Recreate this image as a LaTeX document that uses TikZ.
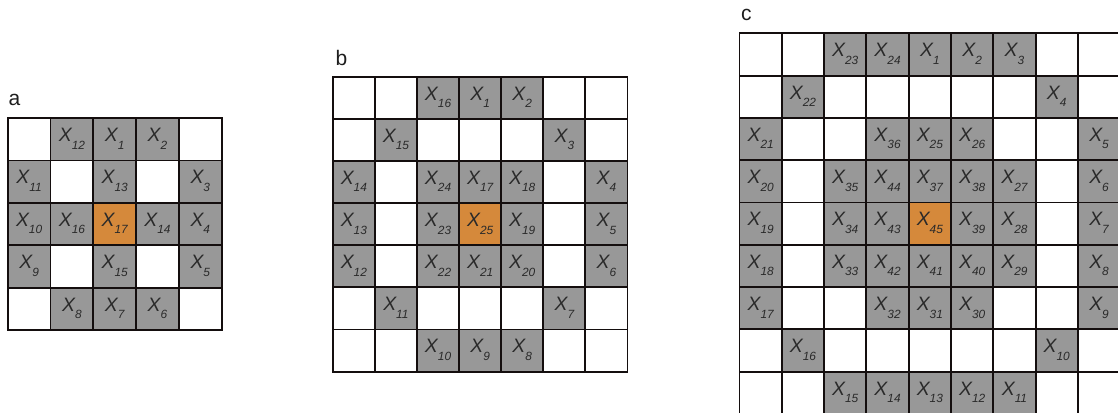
\documentclass[tikz,border=0pt]{standalone}
\usepackage{fontspec}
\setmainfont{Liberation Sans}
\definecolor{cellgray}{HTML}{989898}
\definecolor{cellorange}{HTML}{D5893B}
\definecolor{gridline}{HTML}{140E0E}
\definecolor{txt}{HTML}{2A2A2A}
\definecolor{paneltxt}{HTML}{1E1E1E}
\tikzset{
  cellbox/.style={draw=gridline, line width=1.9pt, fill=white, inner sep=0pt, outer sep=0pt},
  xtxt/.style={anchor=base, inner sep=0pt, text=txt, font=\itshape},
  panel/.style={anchor=base west, inner sep=0pt, text=paneltxt, font=\fontsize{21}{24}\selectfont}
}
\newcommand\xsub[1]{{\fontsize{19.4}{21}\selectfont X}\raisebox{-7.5pt}{\fontsize{11.9}{13}\selectfont #1}}
% #1 name, #2 x0, #3 y0, #4 sx, #5 sy, #6 rows
\newcommand\gridcells[6]{%
  \foreach \row [count=\r] in {#6} {
    \foreach \v [count=\c] in \row {
      \pgfmathsetmacro\cx{#2+(\c-0.5)*#4}
      \pgfmathsetmacro\cy{#3+(\r-0.5)*#5}
      \ifnum\v=0\relax
        \node[cellbox, minimum width=#4pt, minimum height=#5pt] (#1-\r-\c) at (\cx,\cy) {};
      \else\ifnum\v<0\relax
        \node[cellbox, fill=cellorange, minimum width=#4pt, minimum height=#5pt] (#1-\r-\c) at (\cx,\cy) {};
        \node[xtxt] (#1-\r-\c-t) at (\cx,\cy+2.3) {\xsub{\the\numexpr-\v\relax}};
      \else
        \node[cellbox, fill=cellgray, minimum width=#4pt, minimum height=#5pt] (#1-\r-\c) at (\cx,\cy) {};
        \node[xtxt] (#1-\r-\c-t) at (\cx,\cy+2.3) {\xsub{\v}};
      \fi\fi
    }
  }
}
\begin{document}
\begin{tikzpicture}[x=1pt,y=-1pt]
\useasboundingbox (0,0) rectangle (1118,412);
\clip (0,0) rectangle (1118,412);
\fill[white] (0,0) rectangle (1118,412);

\node[panel] (la) at (8.5,105) {a};
\node[panel] (lb) at (335.5,65) {b};
\node[panel] (lc) at (741,20.7) {c};

\gridcells{a}{7.7}{118}{42.8}{42.45}{
 {0,12,1,2,0},
 {11,0,13,0,3},
 {10,16,-17,14,4},
 {9,0,15,0,5},
 {0,8,7,6,0}}

\gridcells{b}{332.8}{76.9}{42.1}{42.1}{
 {0,0,16,1,2,0,0},
 {0,15,0,0,0,3,0},
 {14,0,24,17,18,0,4},
 {13,0,23,-25,19,0,5},
 {12,0,22,21,20,0,6},
 {0,11,0,0,0,7,0},
 {0,0,10,9,8,0,0}}

\gridcells{c}{739.5}{33.3}{42.3}{42.3}{
 {0,0,23,24,1,2,3,0,0},
 {0,22,0,0,0,0,0,4,0},
 {21,0,0,36,25,26,0,0,5},
 {20,0,35,44,37,38,27,0,6},
 {19,0,34,43,-45,39,28,0,7},
 {18,0,33,42,41,40,29,0,8},
 {17,0,0,32,31,30,0,0,9},
 {0,16,0,0,0,0,0,10,0},
 {0,0,15,14,13,12,11,0,0}}
\end{tikzpicture}
\end{document}
